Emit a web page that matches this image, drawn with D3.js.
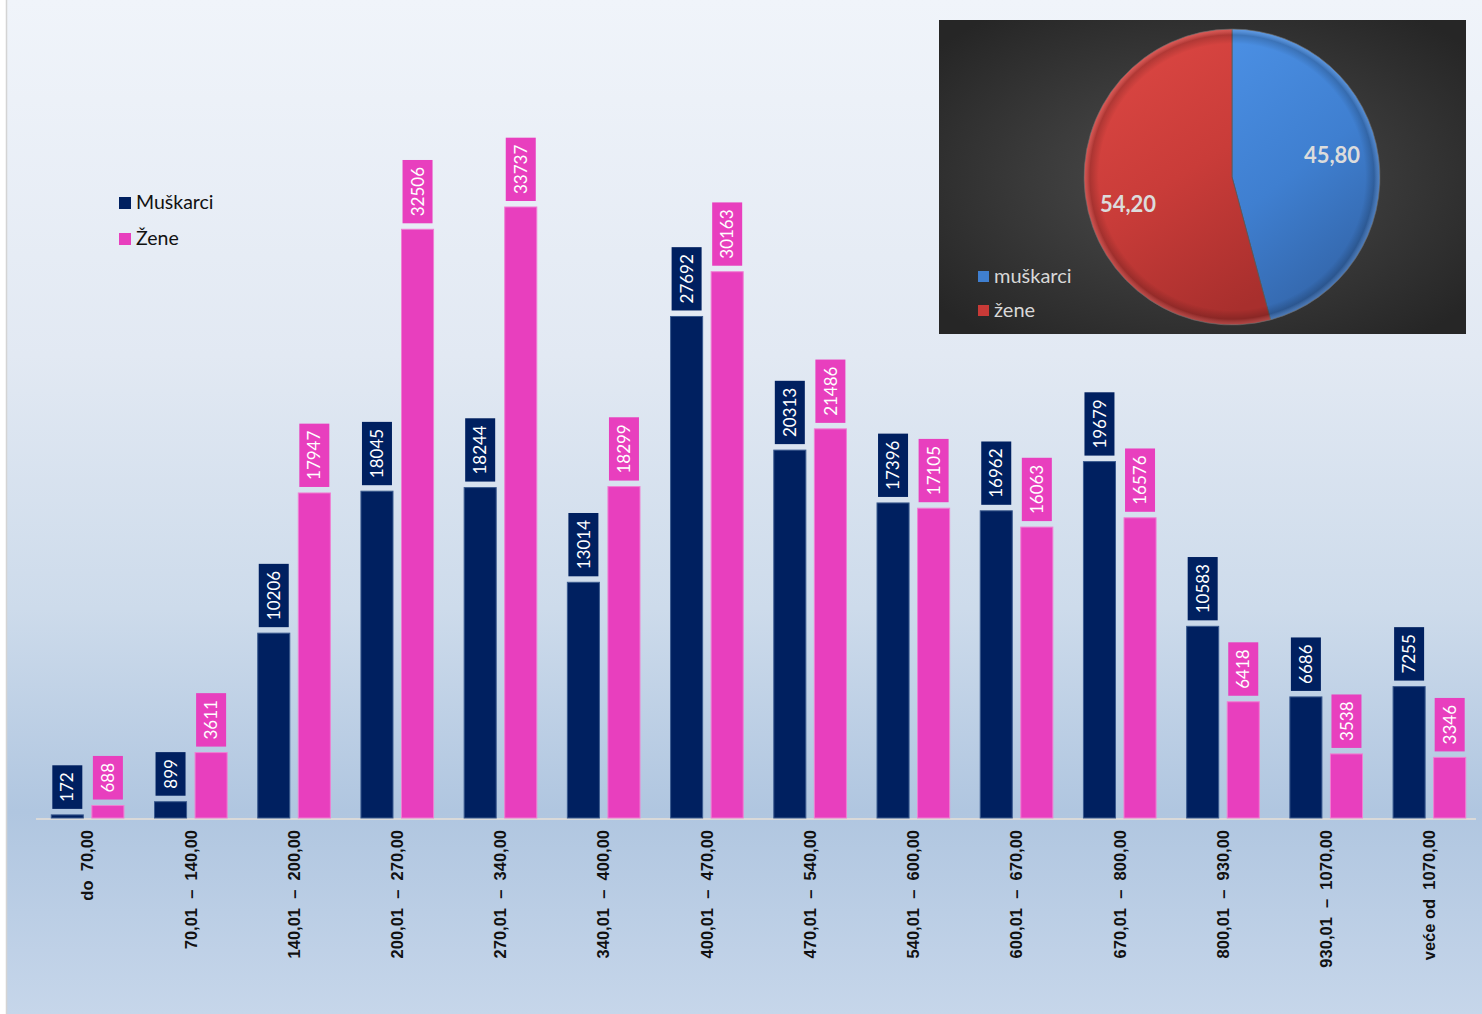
<!DOCTYPE html>
<html>
<head>
<meta charset="utf-8">
<script src="https://cdn.jsdelivr.net/npm/d3@7"></script>
<style>
html,body{margin:0;padding:0;background:#fff;}
svg{display:block;}
</style>
</head>
<body>
<svg id="chart" width="1482" height="1014"></svg>
<script>
const categories = ["do  70,00","70,01  –  140,00","140,01  –  200,00","200,01  –  270,00","270,01  –  340,00","340,01  –  400,00","400,01  –  470,00","470,01  –  540,00","540,01  –  600,00","600,01  –  670,00","670,01  –  800,00","800,01  –  930,00","930,01  –  1070,00","veće od  1070,00"];
const muskarci = [172, 899, 10206, 18045, 18244, 13014, 27692, 20313, 17396, 16962, 19679, 10583, 6686, 7255];
const zene = [688, 3611, 17947, 32506, 33737, 18299, 30163, 21486, 17105, 16063, 16576, 6418, 3538, 3346];
const seriesNames = ["Muškarci", "Žene"];
const pieLabels = ["muškarci", "žene"];
const pieValues = [45.80, 54.20];
const pieValueText = ["45,80", "54,20"];

const W = 1482, H = 1014;
const svg = d3.select("#chart");
const defs = svg.append("defs");

// background gradient
const bg = defs.append("linearGradient").attr("id","bgGrad").attr("x1",0).attr("y1",0).attr("x2",0).attr("y2",1);
[[0,"#f0f4fa"],[0.35,"#e2e9f3"],[0.6,"#cddbeb"],[0.8,"#b0c6e0"],[1,"#c6d6ea"]].forEach(s=>bg.append("stop").attr("offset",s[0]).attr("stop-color",s[1]));
svg.append("rect").attr("x",0).attr("y",0).attr("width",W).attr("height",H).attr("fill","#ffffff");
svg.append("rect").attr("x",7).attr("y",0).attr("width",W-7).attr("height",H).attr("fill","url(#bgGrad)");
svg.append("line").attr("x1",6.5).attr("x2",6.5).attr("y1",0).attr("y2",H).attr("stroke","#d4d4d4").attr("stroke-width",1.5);

const colors = ["#002060", "#e83fbe"];
const baseY = 818;
const x0 = d3.scaleBand().domain(categories).range([36, 1481]).paddingInner(0).paddingOuter(0);
const x1 = d3.scaleBand().domain([0,1]).range([0, x0.bandwidth()]).paddingInner(0.21).paddingOuter(0.377);
const y = d3.scaleLinear().domain([0, 33737]).range([baseY, 207]);

// axis
const xAxis = d3.axisBottom(x0).tickSize(0).tickPadding(0);
const gx = svg.append("g").attr("transform",`translate(0,${baseY})`).call(xAxis)
  .attr("font-family","'Liberation Sans', Arial, sans-serif");
gx.select(".domain").attr("stroke","#d9d9d9").attr("stroke-width",2).attr("d","M36,1H1476");
gx.selectAll(".tick text")
  .attr("transform","rotate(-90)")
  .attr("x",-12).attr("y",0).attr("dy","0.35em")
  .attr("text-anchor","end")
  .attr("font-family","'Liberation Sans', Arial, sans-serif")
  .attr("font-weight","bold").attr("font-size","16.5px").attr("fill","#111")
  .style("white-space","pre").attr("xml:space","preserve");

const data = categories.map((c,i)=>({c, vals:[muskarci[i], zene[i]]}));
const groups = svg.append("g").selectAll("g").data(data).join("g")
  .attr("transform", d=>`translate(${x0(d.c)},0)`);

groups.selectAll("rect.bar").data(d=>d.vals.map((v,k)=>({v,k}))).join("rect")
  .attr("class","bar")
  .attr("x", d=>x1(d.k)).attr("width", x1.bandwidth())
  .attr("y", d=>y(d.v)).attr("height", d=>baseY - y(d.v))
  .attr("fill", d=>colors[d.k])
  .attr("stroke", d=>d.k===0 ? "#3a5a8f" : "#f07fd3").attr("stroke-width",1);

// data labels
const lab = groups.selectAll("g.lab").data(d=>d.vals.map((v,k)=>({v,k}))).join("g").attr("class","lab");
lab.each(function(d){
  const g = d3.select(this);
  const cx = x1(d.k) + x1.bandwidth()/2;
  const t = g.append("text").text(String(d.v))
    .attr("font-family","Lato, 'Open Sans', sans-serif").attr("font-size","17px")
    .attr("fill","#ffffff").attr("text-anchor","middle").attr("dy","0.36em");
  const len = t.node().getComputedTextLength();
  const pad = 7;
  const h = len + 2*pad;
  const bottom = y(d.v) - 6;
  const cy = bottom - h/2;
  g.insert("rect","text").attr("x", cx-15).attr("width",30).attr("y", bottom-h).attr("height", h)
    .attr("fill", colors[d.k]);
  t.attr("transform",`translate(${cx},${cy}) rotate(-90)`);
});

// legend
const leg = svg.append("g").attr("transform","translate(119,197)");
seriesNames.forEach((n,i)=>{
  leg.append("rect").attr("x",0).attr("y",i*36).attr("width",12).attr("height",12).attr("fill",colors[i]);
  leg.append("text").attr("x",17).attr("y",i*36+12).text(n)
    .attr("font-family","Lato, 'Open Sans', sans-serif").attr("font-size","19.5px").attr("fill","#111");
});

// pie panel
const pg = defs.append("radialGradient").attr("id","panelGrad").attr("cx","0.5").attr("cy","0.5").attr("r","0.65");
pg.append("stop").attr("offset",0).attr("stop-color","#4e4e4e");
pg.append("stop").attr("offset",1).attr("stop-color","#262626");
svg.append("rect").attr("x",939).attr("y",20).attr("width",527).attr("height",314).attr("fill","url(#panelGrad)");

const blueG = defs.append("linearGradient").attr("id","blueGrad").attr("x1",0.2).attr("y1",0).attr("x2",0.6).attr("y2",1);
[[0,"#4a8ee2"],[0.5,"#3f7fd0"],[1,"#3263a6"]].forEach(s=>blueG.append("stop").attr("offset",s[0]).attr("stop-color",s[1]));
const redG = defs.append("linearGradient").attr("id","redGrad").attr("x1",0.3).attr("y1",0).attr("x2",0.7).attr("y2",1);
[[0,"#dc4743"],[0.5,"#c93c39"],[1,"#a82f2d"]].forEach(s=>redG.append("stop").attr("offset",s[0]).attr("stop-color",s[1]));
const bevel = defs.append("radialGradient").attr("id","bevel").attr("gradientUnits","userSpaceOnUse")
  .attr("cx",0).attr("cy",0).attr("r",148);
[[0,"rgba(0,0,0,0)"],[0.9,"rgba(0,0,0,0)"],[0.96,"rgba(0,0,0,0.18)"],[1,"rgba(255,255,255,0.12)"]].forEach(s=>bevel.append("stop").attr("offset",s[0]).attr("stop-color",s[1].replace(/rgba\((\d+),(\d+),(\d+),([\d.]+)\)/,"rgb($1,$2,$3)")).attr("stop-opacity",+s[1].match(/([\d.]+)\)$/)[1]));
const pieFills = ["url(#blueGrad)","url(#redGrad)"];

const pie = d3.pie().sort(null).value(d=>d)(pieValues);
const arc = d3.arc().innerRadius(0).outerRadius(148);
const pieG = svg.append("g").attr("transform","translate(1232,177)");
pieG.selectAll("path.sl").data(pie).join("path").attr("class","sl").attr("d",arc).attr("fill",(d,i)=>pieFills[i])
  .attr("stroke","#5a5a5a").attr("stroke-width",0.8);
pieG.selectAll("path.bv").data(pie).join("path").attr("class","bv").attr("d",arc).attr("fill","url(#bevel)");
const labPos = [[100,-22],[-104,27]];
pieG.selectAll("text.pv").data(pie).join("text").attr("class","pv")
  .attr("x",(d,i)=>labPos[i][0]).attr("y",(d,i)=>labPos[i][1]).attr("dy","0.35em")
  .attr("text-anchor","middle").text((d,i)=>pieValueText[i])
  .attr("font-family","Lato, 'Open Sans', sans-serif").attr("font-weight","bold").attr("font-size","22px").attr("fill","#dcdcdc");

const pl = svg.append("g").attr("transform","translate(978,271)");
const markerCols = ["#3f7fd0","#c83a37"];
pieLabels.forEach((n,i)=>{
  pl.append("rect").attr("x",0).attr("y",i*34).attr("width",11).attr("height",11).attr("fill",markerCols[i]);
  pl.append("text").attr("x",16).attr("y",i*34+12).text(n)
    .attr("font-family","Lato, 'Open Sans', sans-serif").attr("font-size","20px").attr("fill","#d8d8d8");
});
</script>
</body>
</html>
